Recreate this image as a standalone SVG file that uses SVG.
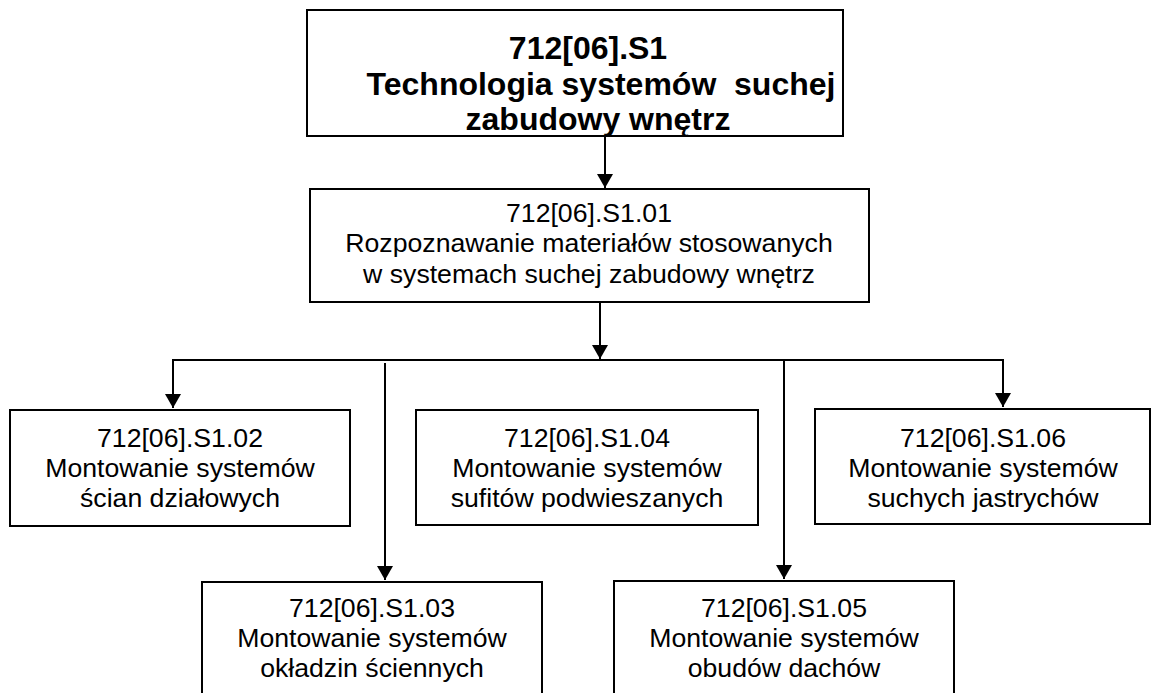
<svg xmlns="http://www.w3.org/2000/svg" width="1152" height="693" viewBox="0 0 1152 693">
  <style>
    .box { fill: #ffffff; stroke: #000000; stroke-width: 2; }
    .t { font-family: "Liberation Sans", Arial, sans-serif; font-size: 26.67px; fill: #000000; text-anchor: middle; }
    .tb { font-family: "Liberation Sans", Arial, sans-serif; font-size: 32px; font-weight: bold; fill: #000000; text-anchor: middle; }
    .ln { fill: none; stroke: #000000; stroke-width: 2; }
  </style>
  <defs>
    <marker id="arrow" viewBox="0 0 14 16" refX="14" refY="8" markerWidth="14" markerHeight="16" markerUnits="userSpaceOnUse" orient="auto">
      <path d="M0,0 L14,8 L0,16 Z" fill="#000000"/>
    </marker>
  </defs>

  <!-- connectors -->
  <g id="connectors">
    <line class="ln" x1="605" y1="136" x2="605" y2="188" marker-end="url(#arrow)"/>
    <line class="ln" x1="600" y1="302" x2="600" y2="359" marker-end="url(#arrow)"/>
    <polyline class="ln" points="173,400 173,360 1003,360 1003,400"/>
    <line class="ln" x1="173" y1="360" x2="173" y2="408" marker-end="url(#arrow)"/>
    <line class="ln" x1="1003" y1="360" x2="1003" y2="407" marker-end="url(#arrow)"/>
    <line class="ln" x1="385" y1="363" x2="385" y2="580" marker-end="url(#arrow)"/>
    <line class="ln" x1="784" y1="360" x2="784" y2="579" marker-end="url(#arrow)"/>
  </g>

  <!-- root module -->
  <g id="s1">
    <rect class="box" x="307" y="10" width="536" height="126"/>
    <text class="tb" x="588" y="59">712[06].S1</text>
    <text class="tb" x="601" y="95">Technologia systemów&#160; suchej</text>
    <text class="tb" x="598" y="130">zabudowy wnętrz</text>
  </g>

  <g id="s1-01">
    <rect class="box" x="310" y="189" width="559" height="113"/>
    <text class="t" x="589" y="222">712[06].S1.01</text>
    <text class="t" x="589" y="252">Rozpoznawanie materiałów stosowanych</text>
    <text class="t" x="589" y="283">w systemach suchej zabudowy wnętrz</text>
  </g>

  <g id="s1-02">
    <rect class="box" x="10" y="410" width="340" height="116"/>
    <text class="t" x="180" y="447">712[06].S1.02</text>
    <text class="t" x="180" y="477">Montowanie systemów</text>
    <text class="t" x="180" y="507">ścian działowych</text>
  </g>

  <g id="s1-03">
    <rect class="box" x="202" y="582" width="340" height="130"/>
    <text class="t" x="372" y="617">712[06].S1.03</text>
    <text class="t" x="372" y="647">Montowanie systemów</text>
    <text class="t" x="372" y="677">okładzin ściennych</text>
  </g>

  <g id="s1-04">
    <rect class="box" x="416" y="410" width="342" height="115"/>
    <text class="t" x="587" y="447">712[06].S1.04</text>
    <text class="t" x="587" y="477">Montowanie systemów</text>
    <text class="t" x="587" y="507">sufitów podwieszanych</text>
  </g>

  <g id="s1-05">
    <rect class="box" x="614" y="581" width="340" height="130"/>
    <text class="t" x="784" y="617">712[06].S1.05</text>
    <text class="t" x="784" y="647">Montowanie systemów</text>
    <text class="t" x="784" y="677">obudów dachów</text>
  </g>

  <g id="s1-06">
    <rect class="box" x="815" y="409" width="335" height="115"/>
    <text class="t" x="983" y="447">712[06].S1.06</text>
    <text class="t" x="983" y="477">Montowanie systemów</text>
    <text class="t" x="983" y="507">suchych jastrychów</text>
  </g>
</svg>
